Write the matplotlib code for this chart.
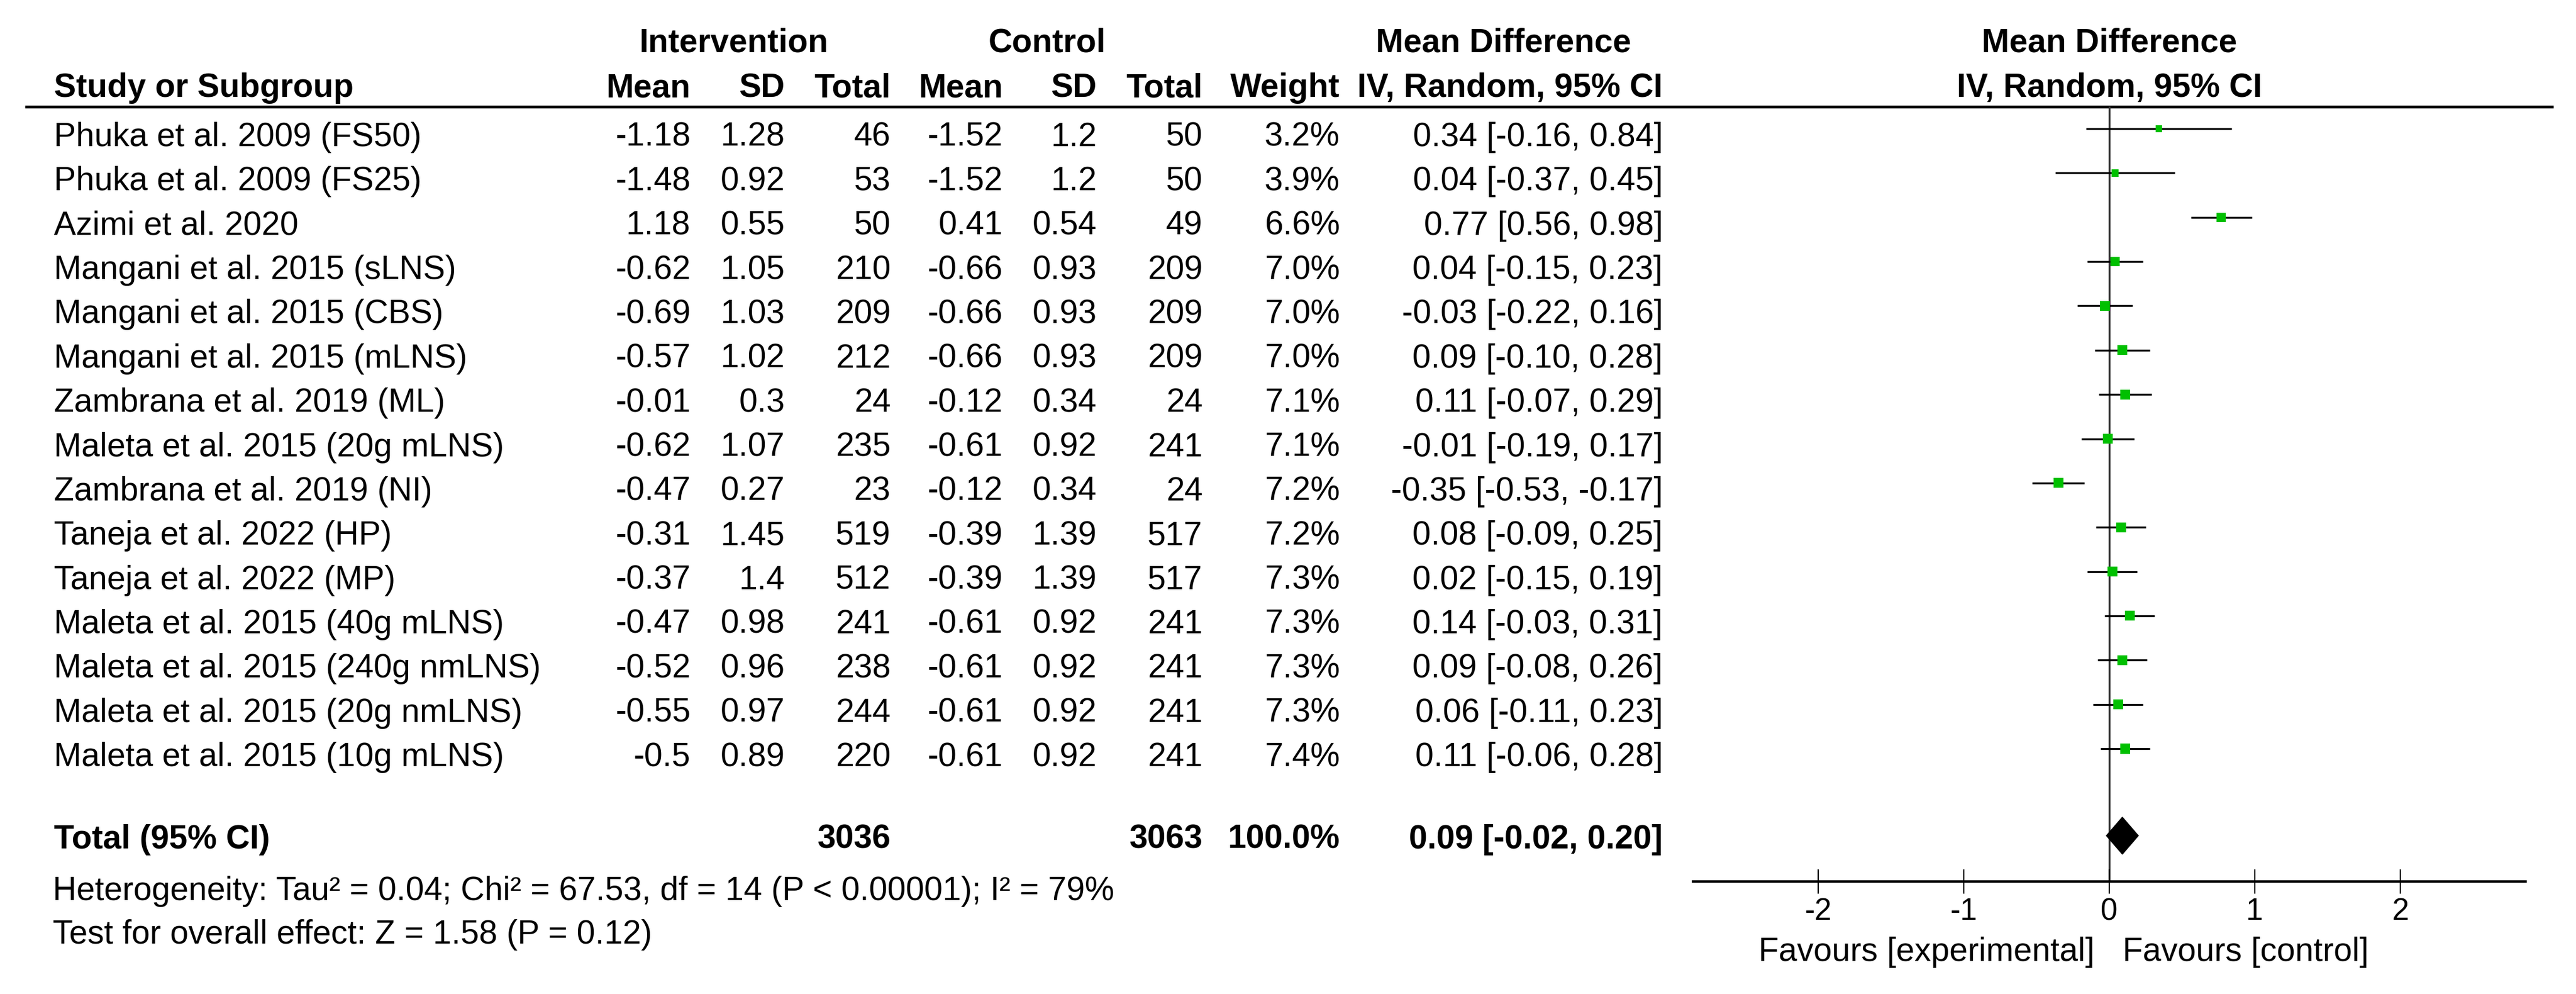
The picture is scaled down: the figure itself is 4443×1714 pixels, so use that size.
import numpy as np
import matplotlib.pyplot as plt
from matplotlib.transforms import blended_transform_factory

plt.rcParams['font.family'] = ['Liberation Sans', 'DejaVu Sans']
plt.rcParams['axes.unicode_minus'] = False

# ---- data ----
studies = [
    'Phuka et al. 2009 (FS50)', 'Phuka et al. 2009 (FS25)', 'Azimi et al. 2020',
    'Mangani et al. 2015 (sLNS)', 'Mangani et al. 2015 (CBS)', 'Mangani et al. 2015 (mLNS)',
    'Zambrana et al. 2019 (ML)', 'Maleta et al. 2015 (20g mLNS)', 'Zambrana et al. 2019 (NI)',
    'Taneja et al. 2022 (HP)', 'Taneja et al. 2022 (MP)', 'Maleta et al. 2015 (40g mLNS)',
    'Maleta et al. 2015 (240g nmLNS)', 'Maleta et al. 2015 (20g nmLNS)', 'Maleta et al. 2015 (10g mLNS)',
]
int_mean = [-1.18, -1.48, 1.18, -0.62, -0.69, -0.57, -0.01, -0.62, -0.47, -0.31, -0.37, -0.47, -0.52, -0.55, -0.5]
int_sd = [1.28, 0.92, 0.55, 1.05, 1.03, 1.02, 0.3, 1.07, 0.27, 1.45, 1.4, 0.98, 0.96, 0.97, 0.89]
int_n = [46, 53, 50, 210, 209, 212, 24, 235, 23, 519, 512, 241, 238, 244, 220]
ctl_mean = [-1.52, -1.52, 0.41, -0.66, -0.66, -0.66, -0.12, -0.61, -0.12, -0.39, -0.39, -0.61, -0.61, -0.61, -0.61]
ctl_sd = [1.2, 1.2, 0.54, 0.93, 0.93, 0.93, 0.34, 0.92, 0.34, 1.39, 1.39, 0.92, 0.92, 0.92, 0.92]
ctl_n = [50, 50, 49, 209, 209, 209, 24, 241, 24, 517, 517, 241, 241, 241, 241]
weight = [3.2, 3.9, 6.6, 7.0, 7.0, 7.0, 7.1, 7.1, 7.2, 7.2, 7.3, 7.3, 7.3, 7.3, 7.4]
md = [0.34, 0.04, 0.77, 0.04, -0.03, 0.09, 0.11, -0.01, -0.35, 0.08, 0.02, 0.14, 0.09, 0.06, 0.11]
ci_lo = [-0.16, -0.37, 0.56, -0.15, -0.22, -0.10, -0.07, -0.19, -0.53, -0.09, -0.15, -0.03, -0.08, -0.11, -0.06]
ci_hi = [0.84, 0.45, 0.98, 0.23, 0.16, 0.28, 0.29, 0.17, -0.17, 0.25, 0.19, 0.31, 0.26, 0.23, 0.28]

total_int_n = 3036
total_ctl_n = 3063
total_weight = 100.0
total_md, total_lo, total_hi = 0.09, -0.02, 0.20
heterogeneity = 'Heterogeneity: Tau² = 0.04; Chi² = 67.53, df = 14 (P < 0.00001); I² = 79%'
overall = 'Test for overall effect: Z = 1.58 (P = 0.12)'
xticks = [-2, -1, 0, 1, 2]

# ---- layout (pixels) ----
W, H = 4443, 1715
FS = 41
fig = plt.figure(figsize=(W / 100, H / 100), dpi=100)
tab = fig.add_axes([0, 0, 1, 1])
tab.set_xlim(0, W)
tab.set_ylim(H, 0)
tab.axis('off')

row0, step = 223, 76.36
ys = row0 + step * np.arange(len(studies))
base = ys + 29

col_right = dict(im=1191, isd=1354, itot=1536, cm=1730, csd=1892, ctot=2074, w=2311, ci=2868)

# headers
tab.text(1265, 90, 'Intervention', ha='center', fontsize=FS, fontweight='bold')
tab.text(1806, 90, 'Control', ha='center', fontsize=FS, fontweight='bold')
tab.text(2593, 90, 'Mean Difference', ha='center', fontsize=FS, fontweight='bold')
tab.text(93, 167, 'Study or Subgroup', ha='left', fontsize=FS, fontweight='bold')
for key, lab in [('im', 'Mean'), ('isd', 'SD'), ('itot', 'Total'), ('cm', 'Mean'), ('csd', 'SD'),
                 ('ctot', 'Total'), ('w', 'Weight'), ('ci', 'IV, Random, 95% CI')]:
    tab.text(col_right[key], 167, lab, ha='right', fontsize=FS, fontweight='bold')
tab.hlines(185, 43, 4404, color='black', lw=3.5)

# study rows
for i, name in enumerate(studies):
    y = base[i]
    tab.text(93, y, name, ha='left', fontsize=FS)
    vals = [('im', f'{int_mean[i]:g}'), ('isd', f'{int_sd[i]:g}'), ('itot', f'{int_n[i]}'),
            ('cm', f'{ctl_mean[i]:g}'), ('csd', f'{ctl_sd[i]:g}'), ('ctot', f'{ctl_n[i]}'),
            ('w', f'{weight[i]:.1f}%'),
            ('ci', f'{md[i]:.2f} [{ci_lo[i]:.2f}, {ci_hi[i]:.2f}]')]
    for key, s in vals:
        tab.text(col_right[key], y, s, ha='right', fontsize=FS)

# total row
ty = 1463
tab.text(93, ty, 'Total (95% CI)', ha='left', fontsize=FS, fontweight='bold')
tab.text(col_right['itot'], ty, f'{total_int_n}', ha='right', fontsize=FS, fontweight='bold')
tab.text(col_right['ctot'], ty, f'{total_ctl_n}', ha='right', fontsize=FS, fontweight='bold')
tab.text(col_right['w'], ty, f'{total_weight:.1f}%', ha='right', fontsize=FS, fontweight='bold')
tab.text(col_right['ci'], ty, f'{total_md:.2f} [{total_lo:.2f}, {total_hi:.2f}]',
         ha='right', fontsize=FS, fontweight='bold')
tab.text(91, 1552, heterogeneity, ha='left', fontsize=FS)
tab.text(91, 1627, overall, ha='left', fontsize=FS)

# ---- forest panel ----
ax_l, ax_r, ax_top, ax_bot = 2920, 4356, 185, 1521
fax = fig.add_axes([ax_l / W, (H - ax_bot) / H, (ax_r - ax_l) / W, (ax_bot - ax_top) / H])
fax.patch.set_alpha(0)
fax.set_xlim(-2.861, 2.861)
fax.set_ylim(ax_bot, ax_top)
for s in ['top', 'left', 'right']:
    fax.spines[s].set_visible(False)
fax.spines['bottom'].set_linewidth(3)
fax.set_yticks([])
fax.set_xticks(xticks)
fax.set_xticklabels([f'{t}' for t in xticks])
fax.tick_params(axis='x', direction='inout', length=30, width=1.6, pad=4, labelsize=38)

fax.axvline(0, color='#333333', lw=2.4, zorder=1)
fax.hlines(ys, ci_lo, ci_hi, color='black', lw=2.4, zorder=2)
side_pt = 0.72 * 6.3 * np.sqrt(weight)
fax.scatter(md, ys, marker='s', s=side_pt ** 2, color='#00c000', linewidths=0, zorder=3)

dy = 1442
fax.fill([total_lo, total_md, total_hi, total_md], [dy, dy - 32, dy, dy + 32],
         color='black', zorder=3)

bt = blended_transform_factory(fax.transData, tab.transData)
tab.text(0, 90, 'Mean Difference', transform=bt, ha='center', fontsize=FS, fontweight='bold')
tab.text(0, 167, 'IV, Random, 95% CI', transform=bt, ha='center', fontsize=FS, fontweight='bold')
tab.text(-0.1, 1657, 'Favours [experimental]', transform=bt, ha='right', fontsize=FS)
tab.text(0.09, 1657, 'Favours [control]', transform=bt, ha='left', fontsize=FS)

fig.savefig('out.png', dpi=100)
